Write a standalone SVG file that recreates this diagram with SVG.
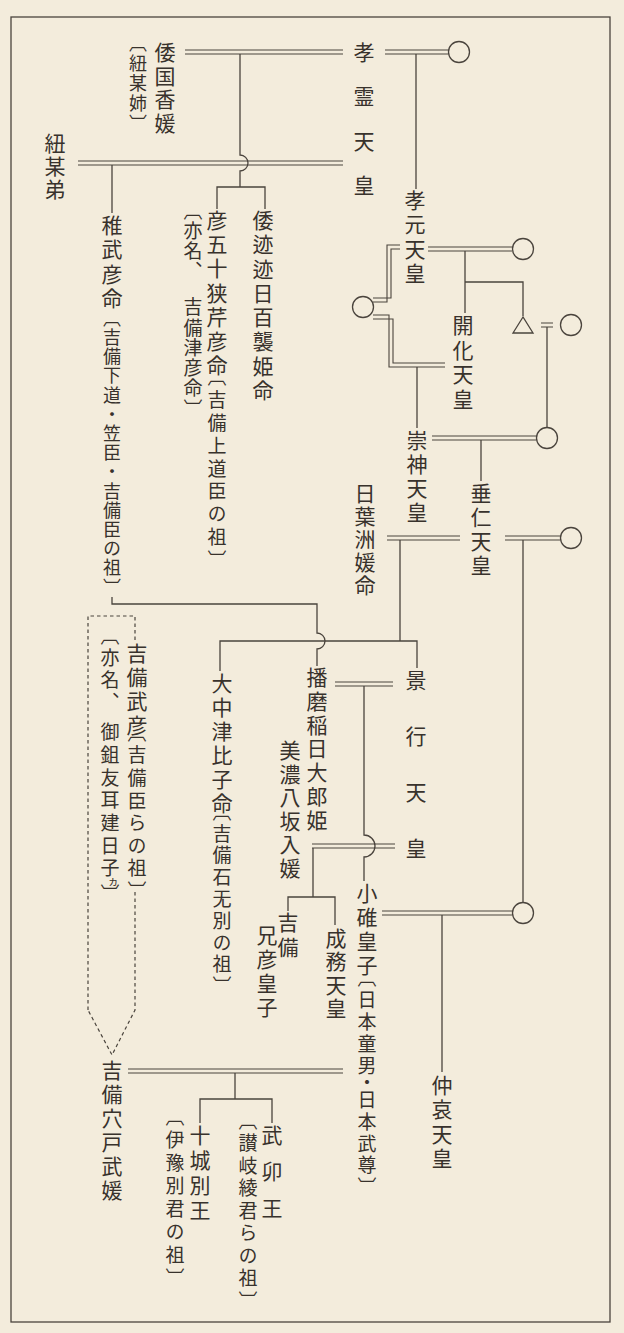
<svg xmlns="http://www.w3.org/2000/svg" width="624" height="1333" viewBox="0 0 624 1333">
<style>
.t{font-family:"Noto Sans CJK JP","Noto Sans CJK SC",sans-serif;writing-mode:vertical-rl;fill:#38322c;font-size:21px;letter-spacing:3.3px}
.a{font-size:19px}
.l{fill:none;stroke:#4a443d;stroke-width:1.3}
.d{fill:none;stroke:#4a443d;stroke-width:1.1}
.dash{fill:none;stroke:#4a443d;stroke-width:1.2;stroke-dasharray:3.5 3}
</style>
<rect x="0" y="0" width="624" height="1333" fill="#f3ecdc"/>
<rect x="11" y="17" width="599" height="1305" fill="none" stroke="#4a443d" stroke-width="1.3"/>

<g id="connectors">
  <!-- double lines (marriages) -->
  <path class="d" d="M185,50H343M185,54H343"/>
  <path class="d" d="M385,50H448M385,54H448"/>
  <path class="d" d="M78,161H343M78,165H343"/>
  <path class="d" d="M428,247H512M428,251H512"/>
  <path class="d" d="M373,302H387V245H400M373,298H391V249H400"/>
  <path class="d" d="M373,315H389V367H445M373,319H393V363H445"/>
  <path class="d" d="M432,436H536M432,440H536"/>
  <path class="d" d="M387,536H460M387,540H460"/>
  <path class="d" d="M505,536H560M505,540H560"/>
  <path class="d" d="M335,682H393M335,686H393"/>
  <path class="d" d="M312,844H395M312,848H395"/>
  <path class="d" d="M382,911H512M382,915H512"/>
  <path class="d" d="M128,1069H343M128,1073H343"/>
  <path class="d" d="M541,323H553M541,327H553"/>
  <!-- single lines -->
  <path class="l" d="M416,54V189"/>
  <path class="l" d="M240,54V155A8,8 0 0 1 240,171V187M217,209V187H265V209"/>
  <path class="l" d="M112,165V213"/>
  <path class="l" d="M465,251V313M465,282H523V316"/>
  <path class="l" d="M547,327V427"/>
  <path class="l" d="M417,367V428"/>
  <path class="l" d="M481,440V481"/>
  <path class="l" d="M400,540V641M220,671V641H417V668"/>
  <path class="l" d="M112,597V604H317V633A8,8 0 0 1 317,649V666"/>
  <path class="l" d="M523,540V902"/>
  <path class="l" d="M364,686V835A11,11 0 0 1 364,857V881"/>
  <path class="l" d="M313,848V897M288,911V897H335V925"/>
  <path class="l" d="M442,915V1072"/>
  <path class="l" d="M235,1073V1099M200,1123V1099H272V1123"/>
  <!-- dashed -->
  <path class="dash" d="M88,1010V616H135V640"/>
  <path class="dash" d="M135,892V1010L112,1055L88,1010"/>
</g>

<g id="spouses">
  <circle class="l" cx="459" cy="52" r="10.5"/>
  <circle class="l" cx="523" cy="249" r="10.5"/>
  <circle class="l" cx="363" cy="307" r="10.5"/>
  <polygon class="l" points="523,317 513,333 533,333"/>
  <circle class="l" cx="571" cy="325" r="10.5"/>
  <circle class="l" cx="547" cy="438" r="10.5"/>
  <circle class="l" cx="571" cy="538" r="10.5"/>
  <circle class="l" cx="523" cy="913" r="10.5"/>
</g>

<g id="n-korei"><text class="t" x="364" y="41.5" style="letter-spacing:23.3px">孝霊天皇</text></g>
<g id="n-yamatonokunika"><text class="t" x="165" y="41.5" style="letter-spacing:2.7px">倭国香媛</text><text class="t a" x="138" y="34" style="font-size:18px;letter-spacing:2px">〔紐某姉〕</text></g>
<g id="n-haebo"><text class="t" x="55" y="132.5" style="letter-spacing:2px">紐某弟</text></g>
<g id="n-wakatakehiko"><text class="t" x="112" y="214.5">稚武彦命</text><text class="t a" x="112" y="309" style="font-size:18px;letter-spacing:1.2px">〔吉備下道・笠臣・吉備臣の祖〕</text></g>
<g id="n-hikoisaseri"><text class="t" x="217" y="209.5" style="letter-spacing:3.2px">彦五十狭芹彦命</text><text class="t a" x="217" y="367.7" style="letter-spacing:3.8px">〔吉備上道臣の祖〕</text><text class="t a" x="193" y="201" style="letter-spacing:1px">〔亦名、</text><text class="t a" x="193" y="297.5" style="letter-spacing:1.3px">吉備津彦命〕</text></g>
<g id="n-momoso"><text class="t" x="263" y="209.5">倭迹迹日百襲姫命</text></g>
<g id="n-kogen"><text class="t" x="415" y="189.5">孝元天皇</text></g>
<g id="n-kaika"><text class="t" x="463" y="314.5" style="letter-spacing:3.7px">開化天皇</text></g>
<g id="n-sujin"><text class="t" x="417" y="429.5" style="letter-spacing:3px">崇神天皇</text></g>
<g id="n-suinin"><text class="t" x="481" y="482.5" style="letter-spacing:3px">垂仁天皇</text></g>
<g id="n-hibasu"><text class="t" x="365" y="482.5" style="letter-spacing:2px">日葉洲媛命</text></g>
<g id="n-onakatsu"><text class="t" x="222" y="672.5" style="letter-spacing:3px">大中津比子命</text><text class="t a" x="222" y="802" style="letter-spacing:2.8px">〔吉備石无別の祖〕</text></g>
<g id="n-keiko"><text class="t" x="416" y="669.5" style="letter-spacing:35px">景行天皇</text></g>
<g id="n-harima"><text class="t" x="317" y="666.5" style="letter-spacing:2.8px">播磨稲日大郎姫</text></g>
<g id="n-yasakairi"><text class="t" x="290" y="739.5" style="letter-spacing:2.6px">美濃八坂入媛</text></g>
<g id="n-kibitakehiko"><text class="t" x="137" y="642.5" style="letter-spacing:3px">吉備武彦</text><text class="t a" x="137" y="723" style="letter-spacing:3.6px">〔吉備臣らの祖〕</text><text class="t a" x="110" y="626.5" style="letter-spacing:3px">〔亦名、</text><text class="t a" x="110" y="722.5" style="letter-spacing:3.7px">御鉏友耳建日子</text><text class="t a" x="112" y="876" style="font-size:12px;letter-spacing:0">ヵ</text><text class="t a" x="110" y="884" style="letter-spacing:0">〕</text></g>
<g id="n-kibiehiko"><text class="t" x="288" y="911.5" style="letter-spacing:4px">吉備</text><text class="t" x="267" y="924.5" style="letter-spacing:3px">兄彦皇子</text></g>
<g id="n-seimu"><text class="t" x="336" y="927.5" style="letter-spacing:2.3px">成務天皇</text></g>
<g id="n-ousu"><text class="t" x="367" y="882.5" style="letter-spacing:3px">小碓皇子</text><text class="t a" x="367" y="968" style="letter-spacing:3px">〔日本童男</text><text class="t a" x="367" y="1073.5" style="letter-spacing:0">・</text><text class="t a" x="367" y="1090.5" style="letter-spacing:2.7px">日本武尊〕</text></g>
<g id="n-chuai"><text class="t" x="442" y="1074.5">仲哀天皇</text></g>
<g id="n-anato"><text class="t" x="112" y="1059.5" style="letter-spacing:3px">吉備穴戸武媛</text></g>
<g id="n-tokiwake"><text class="t" x="200" y="1124.5" style="letter-spacing:4px">十城別王</text><text class="t a" x="175" y="1107.5" style="letter-spacing:4px">〔伊豫別君の祖〕</text></g>
<g id="n-takekai"><text class="t" x="272" y="1124.5" style="letter-spacing:15.5px">武卯王</text><text class="t a" x="248" y="1111" style="letter-spacing:3.5px">〔讃岐綾君らの祖〕</text></g>
</svg>
